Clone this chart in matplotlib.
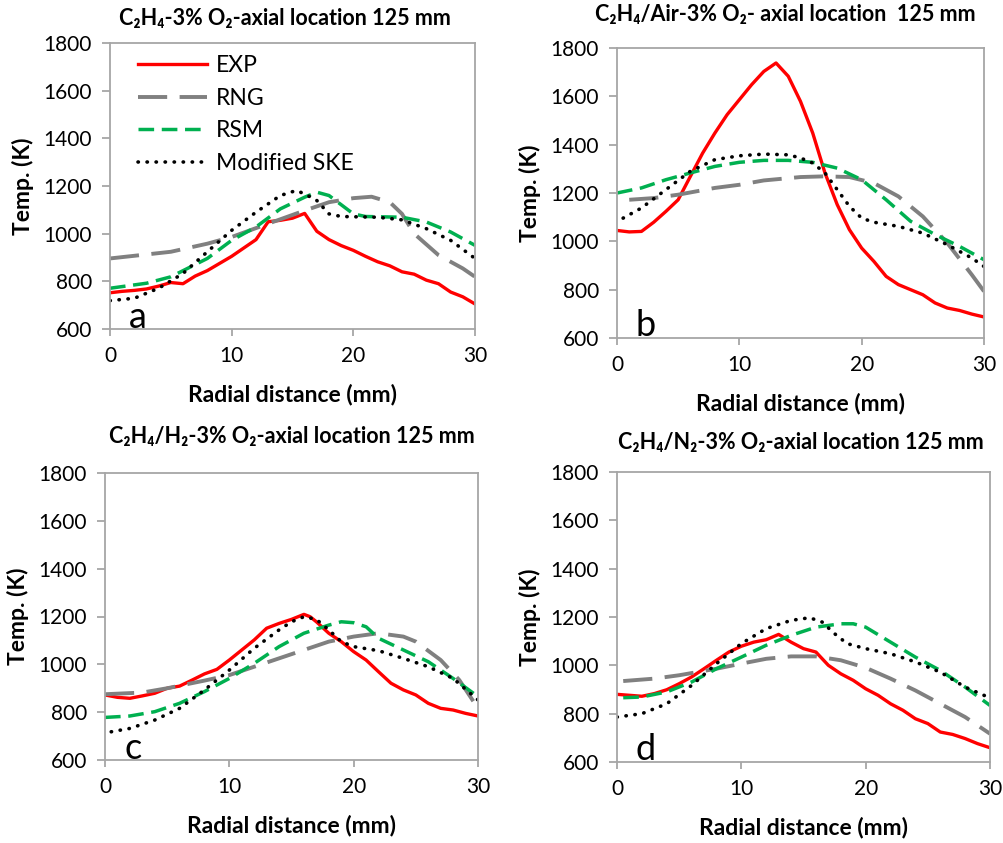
"""Radial temperature profiles at 125 mm: EXP vs RNG / RSM / Modified SKE, four flames."""
import matplotlib
matplotlib.use("Agg")
import matplotlib.pyplot as plt

plt.rcParams["font.family"] = ["Lato", "DejaVu Sans"]

# ---- data (x in mm, T in K) ----
# panel a: C2H4 - 3% O2
a_exp_x = list(range(31))
a_exp_t = [752, 758, 762, 768, 780, 795, 790, 822, 845, 875, 905, 940, 975, 1050, 1056,
           1065, 1085, 1010, 975, 950, 930, 905, 882, 865, 840, 830, 805, 790, 755, 735, 705]
a_rng_x = [0, 5, 8, 10, 13, 16, 18, 20, 21.5, 23, 24, 25, 27, 29, 30]
a_rng_t = [896, 924, 958, 986, 1042, 1097, 1132, 1149, 1155, 1132, 1083, 1000, 910, 854, 819]
a_rsm_x = [0, 3, 5, 8, 10, 12, 14, 16, 17, 18, 20, 21, 24, 26, 28, 30]
a_rsm_t = [771, 792, 819, 896, 972, 1028, 1104, 1153, 1174, 1160, 1083, 1072, 1069, 1049, 1007, 951]
a_ske_x = [0, 2, 4, 6, 8, 10, 12, 14, 15.3, 16, 17, 18, 19, 22, 24, 26, 28, 30]
a_ske_t = [719, 729, 771, 833, 924, 1014, 1090, 1160, 1181, 1167, 1139, 1083, 1072, 1069, 1058,
           1021, 972, 896]

# panel b: C2H4/Air - 3% O2
b_exp_x = list(range(31))
b_exp_t = [1045, 1039, 1041, 1079, 1124, 1172, 1269, 1365, 1448, 1524, 1586, 1648, 1703, 1738,
           1683, 1579, 1448, 1283, 1152, 1048, 972, 917, 855, 821, 800, 779, 745, 724, 714, 699, 687]
b_rng_x = [1, 3, 5, 8, 10, 12, 15, 17, 19, 21, 23, 25, 27, 29, 30]
b_rng_t = [1172, 1179, 1193, 1221, 1234, 1252, 1266, 1269, 1266, 1241, 1186, 1103, 993, 862, 793]
b_rsm_x = [0, 2, 4, 6, 8, 10, 12, 14, 16, 18, 20, 22, 24, 26, 28, 30]
b_rsm_t = [1200, 1221, 1255, 1283, 1310, 1327, 1335, 1335, 1327, 1303, 1255, 1172, 1083, 1028, 979, 924]
b_ske_x = [0.5, 2, 4, 6, 8, 10, 12, 14, 15, 16, 17, 18, 19, 20, 21, 23, 25, 27, 29, 30]
b_ske_t = [1096, 1138, 1214, 1290, 1338, 1354, 1361, 1358, 1345, 1324, 1283, 1214, 1145, 1096,
           1079, 1062, 1034, 986, 931, 896]

# panel c: C2H4/H2 - 3% O2
c_exp_x = [0, 1, 2, 3, 4, 5, 6, 7, 8, 9, 10, 11, 12, 13, 14, 15, 16, 16.5, 17, 18, 19, 20,
           21, 22, 23, 24, 25, 26, 27, 28, 29, 30]
c_exp_t = [872, 862, 858, 868, 879, 900, 909, 934, 960, 979, 1018, 1060, 1102, 1151, 1171, 1188,
           1209, 1199, 1178, 1130, 1095, 1053, 1018, 969, 921, 893, 872, 837, 816, 809, 795, 784]
c_rng_x = [0, 3, 5, 8, 10, 12, 14, 16, 18, 20, 22, 24, 25, 27, 28.5, 30]
c_rng_t = [875, 882, 900, 932, 955, 990, 1025, 1060, 1095, 1116, 1130, 1116, 1095, 1018, 934, 816]
c_rsm_x = [0, 2, 4, 6, 8, 10, 12, 14, 16, 18, 19, 20, 21, 22, 24, 26, 28, 30]
c_rsm_t = [778, 784, 802, 837, 886, 941, 1004, 1074, 1130, 1164, 1178, 1174, 1157, 1109, 1060,
           1011, 941, 865]
c_ske_x = [0.5, 2, 4, 6, 8, 10, 12, 14, 15, 16, 17, 18, 19, 20, 22, 24, 26, 28, 30]
c_ske_t = [718, 732, 767, 816, 893, 976, 1067, 1144, 1178, 1199, 1188, 1144, 1095, 1074, 1057,
           1025, 990, 941, 851]

# panel d: C2H4/N2 - 3% O2
d_exp_x = list(range(31))
d_exp_t = [880, 876, 872, 883, 899, 924, 952, 986, 1021, 1055, 1079, 1096, 1106, 1128, 1096,
           1069, 1055, 1000, 965, 938, 903, 876, 841, 814, 779, 759, 724, 714, 697, 676, 659]
d_rng_x = [0.5, 3, 5, 8, 10, 12, 14, 16, 18, 20, 22, 24, 26, 28, 30]
d_rng_t = [935, 945, 959, 986, 1007, 1027, 1037, 1037, 1021, 990, 945, 896, 841, 786, 717]
d_rsm_x = [0.5, 2, 4, 6, 8, 10, 12, 14, 16, 18, 19, 20, 22, 24, 26, 28, 30]
d_rsm_t = [866, 869, 890, 931, 986, 1034, 1083, 1124, 1158, 1172, 1172, 1158, 1096, 1034, 979,
           910, 834]
d_ske_x = [0, 2, 4, 6, 8, 10, 12, 14, 15.5, 16.5, 17.5, 18.5, 20, 22, 24, 26, 28, 30]
d_ske_t = [786, 800, 841, 917, 1007, 1090, 1152, 1186, 1197, 1179, 1131, 1090, 1069, 1048, 1014,
           972, 910, 865]

panels = [
    ("a", "C\u2082H\u2084-3% O\u2082-axial location 125 mm",
     (a_exp_x, a_exp_t), (a_rng_x, a_rng_t), (a_rsm_x, a_rsm_t), (a_ske_x, a_ske_t)),
    ("b", "C\u2082H\u2084/Air-3% O\u2082- axial location  125 mm",
     (b_exp_x, b_exp_t), (b_rng_x, b_rng_t), (b_rsm_x, b_rsm_t), (b_ske_x, b_ske_t)),
    ("c", "C\u2082H\u2084/H\u2082-3% O\u2082-axial location 125 mm",
     (c_exp_x, c_exp_t), (c_rng_x, c_rng_t), (c_rsm_x, c_rsm_t), (c_ske_x, c_ske_t)),
    ("d", "C\u2082H\u2084/N\u2082-3% O\u2082-axial location 125 mm",
     (d_exp_x, d_exp_t), (d_rng_x, d_rng_t), (d_rsm_x, d_rsm_t), (d_ske_x, d_ske_t)),
]

W, H = 1004, 843
# axes boxes in pixels: left, top, right, bottom
boxes = [(110, 43, 475, 329), (617, 48, 984, 338), (105, 473, 478, 760), (617, 472, 990, 762)]
title_pos = [(285, 18), (785, 15), (292, 437), (801, 443)]
letter_pos = [(2.3, 650), (2.3, 650), (2.3, 650), (2.3, 650)]

fig = plt.figure(figsize=(W / 100, H / 100), dpi=100)
edge = "#a6a6a6"

for (letter, title, exp, rng, rsm, ske), (l, t, r, b), (tx, ty), (lx, ly) in zip(
        panels, boxes, title_pos, letter_pos):
    ax = fig.add_axes([l / W, 1 - b / H, (r - l) / W, (b - t) / H])
    ax.plot(*exp, color="#ff0000", lw=2.4, label="EXP")
    ax.plot(*rng, color="#808080", lw=2.8, dashes=(7.5, 3.2), label="RNG")
    ax.plot(*rsm, color="#00b050", lw=2.5, dashes=(4.5, 2.2), label="RSM")
    ax.plot(*ske, color="black", lw=2.6, dashes=(0.1, 2.4), dash_capstyle="round",
            label="Modified SKE")
    ax.set_xlim(0, 30)
    ax.set_ylim(600, 1800)
    ax.set_xticks([0, 10, 20, 30])
    ax.set_yticks(range(600, 1801, 200))
    for s in ax.spines.values():
        s.set_color(edge)
        s.set_linewidth(1.3)
    ax.tick_params(colors=edge, labelcolor="black", labelsize=15, width=1.3, direction="out")
    ax.tick_params(axis="x", length=5, pad=7)
    ax.tick_params(axis="y", length=6, pad=7)
    ax.set_xlabel("Radial distance (mm)", fontsize=16.5, fontweight="bold", labelpad=13)
    ax.set_ylabel("Temp. (K)", fontsize=16.5, fontweight="bold", labelpad=7)
    ax.text(lx, ly, letter, fontsize=26, ha="center", va="center")
    fig.text(tx / W, 1 - ty / H, title, fontsize=15.5, fontweight="bold", ha="center",
             va="center")
    if letter == "a":
        ax.legend(loc="upper left", frameon=False, fontsize=16.5, handlelength=3.0,
                  handletextpad=0.4, labelspacing=0.5, borderpad=0, borderaxespad=0,
                  bbox_to_anchor=(0.077, 0.957))

fig.savefig("out.png", dpi=100)
